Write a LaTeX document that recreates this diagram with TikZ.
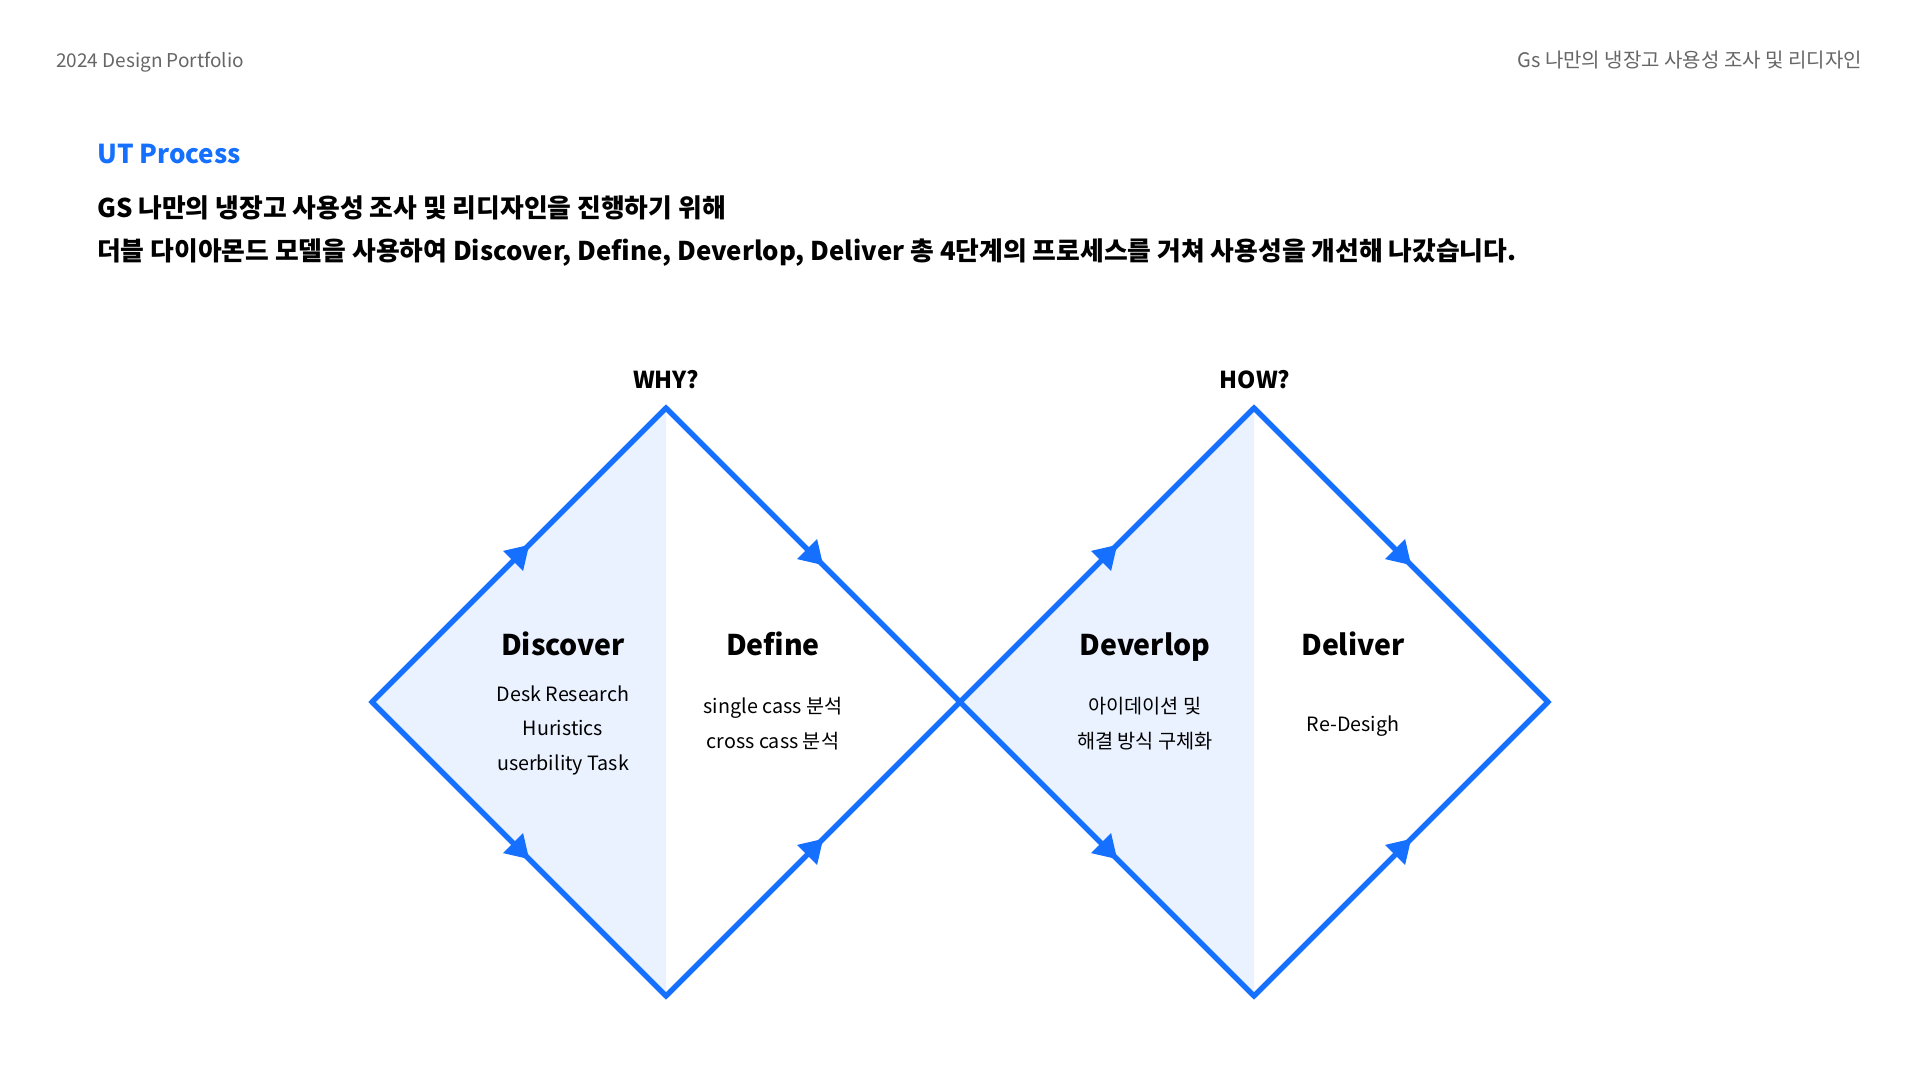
\documentclass[tikz,border=0pt]{standalone}
\usepackage{fontspec}
\setmainfont{Noto Sans CJK KR}
\usetikzlibrary{arrows.meta,decorations.markings}
\definecolor{mainblue}{HTML}{1670FF}
\definecolor{lightfill}{HTML}{EBF2FF}
\definecolor{headgray}{HTML}{666666}
\tikzset{
  fs/.style={font=\fontsize{#1}{#1}\selectfont},
  headtext/.style={text=headgray, inner sep=0pt, anchor=base},
  bodytext/.style={text=black, inner sep=0pt, anchor=base west, font=\fontsize{25.8}{26}\selectfont\bfseries},
  toptext/.style={text=black, inner sep=0pt, anchor=base, font=\fontsize{23.3}{24}\selectfont\bfseries},
  phasetitle/.style={text=black, inner sep=0pt, anchor=base, font=\fontsize{28.5}{29}\selectfont\bfseries},
  itemtext/.style={text=black, inner sep=0pt, anchor=base, fs=19.7},
  outline/.style={draw=mainblue, line width=5pt, line join=miter},
  edge/.style={draw=mainblue, line width=5pt, line cap=butt,
    decoration={markings, mark=at position 0.535 with {\arrow{Triangle[length=23pt,width=27pt]}}},
    postaction={decorate}},
  halffill/.style={fill=lightfill, draw=none}
}
\begin{document}
\begin{tikzpicture}[x=1pt,y=-1pt]
\useasboundingbox (0,0) rectangle (1920,1080);
\fill[white] (0,0) rectangle (1920,1080);

% headers
\node[headtext, anchor=base west, fs=19] (hl) at (56,67) {2024 Design Portfolio};
\node[headtext, anchor=base east, fs=20] (hr) at (1862,67) {Gs 나만의 냉장고 사용성 조사 및 리디자인};

\node[anchor=base west, inner sep=0pt, text=mainblue, font=\fontsize{26}{26}\selectfont\bfseries] (ut) at (97,163.5) {UT Process};
\node[bodytext] (l1) at (97,217.5) {GS 나만의 냉장고 사용성 조사 및 리디자인을 진행하기 위해};
\node[bodytext] (l2) at (97,260.5) {더블 다이아몬드 모델을 사용하여 Discover, Define, Deverlop, Deliver 총 4단계의 프로세스를 거쳐 사용성을 개선해 나갔습니다.};

% diamond vertices
\coordinate (L1) at (372,702);
\coordinate (T1) at (666,408);
\coordinate (B1) at (666,996);
\coordinate (M) at (960,702);
\coordinate (T2) at (1254,408);
\coordinate (B2) at (1254,996);
\coordinate (R2) at (1548,702);

% light fills of left halves
\path[halffill] (L1) -- (T1) -- (B1) -- cycle;
\path[halffill] (M) -- (T2) -- (B2) -- cycle;

% outlines (for clean corners)
\draw[outline] (L1) -- (T1) -- (M) -- (B1) -- cycle;
\draw[outline] (M) -- (T2) -- (R2) -- (B2) -- cycle;

% directed edges
\draw[edge] (L1) -- (T1);
\draw[edge] (T1) -- (M);
\draw[edge] (L1) -- (B1);
\draw[edge] (B1) -- (M);
\draw[edge] (M) -- (T2);
\draw[edge] (T2) -- (R2);
\draw[edge] (M) -- (B2);
\draw[edge] (B2) -- (R2);

% top labels
\node[toptext] (why) at (666,388.5) {WHY?};
\node[toptext] (how) at (1255,388.5) {HOW?};

% phase titles
\node[phasetitle] (discover) at (563,655.5) {Discover};
\node[phasetitle] (define) at (773,655.5) {Define};
\node[phasetitle] (deverlop) at (1145,655.5) {Deverlop};
\node[phasetitle] (deliver) at (1353,655.5) {Deliver};

% items
\node[itemtext] (d1) at (563,701) {Desk Research};
\node[itemtext] (d2) at (563,735.7) {Huristics};
\node[itemtext] (d3) at (563,770) {userbility Task};
\node[itemtext] (f1) at (773,713.7) {single cass 분석};
\node[itemtext] (f2) at (773,748) {cross cass 분석};
\node[itemtext] (v1) at (1145,713.7) {아이데이션 및};
\node[itemtext] (v2) at (1145,748) {해결 방식 구체화};
\node[itemtext] (r1) at (1353,731) {Re-Desigh};
\end{tikzpicture}
\end{document}
